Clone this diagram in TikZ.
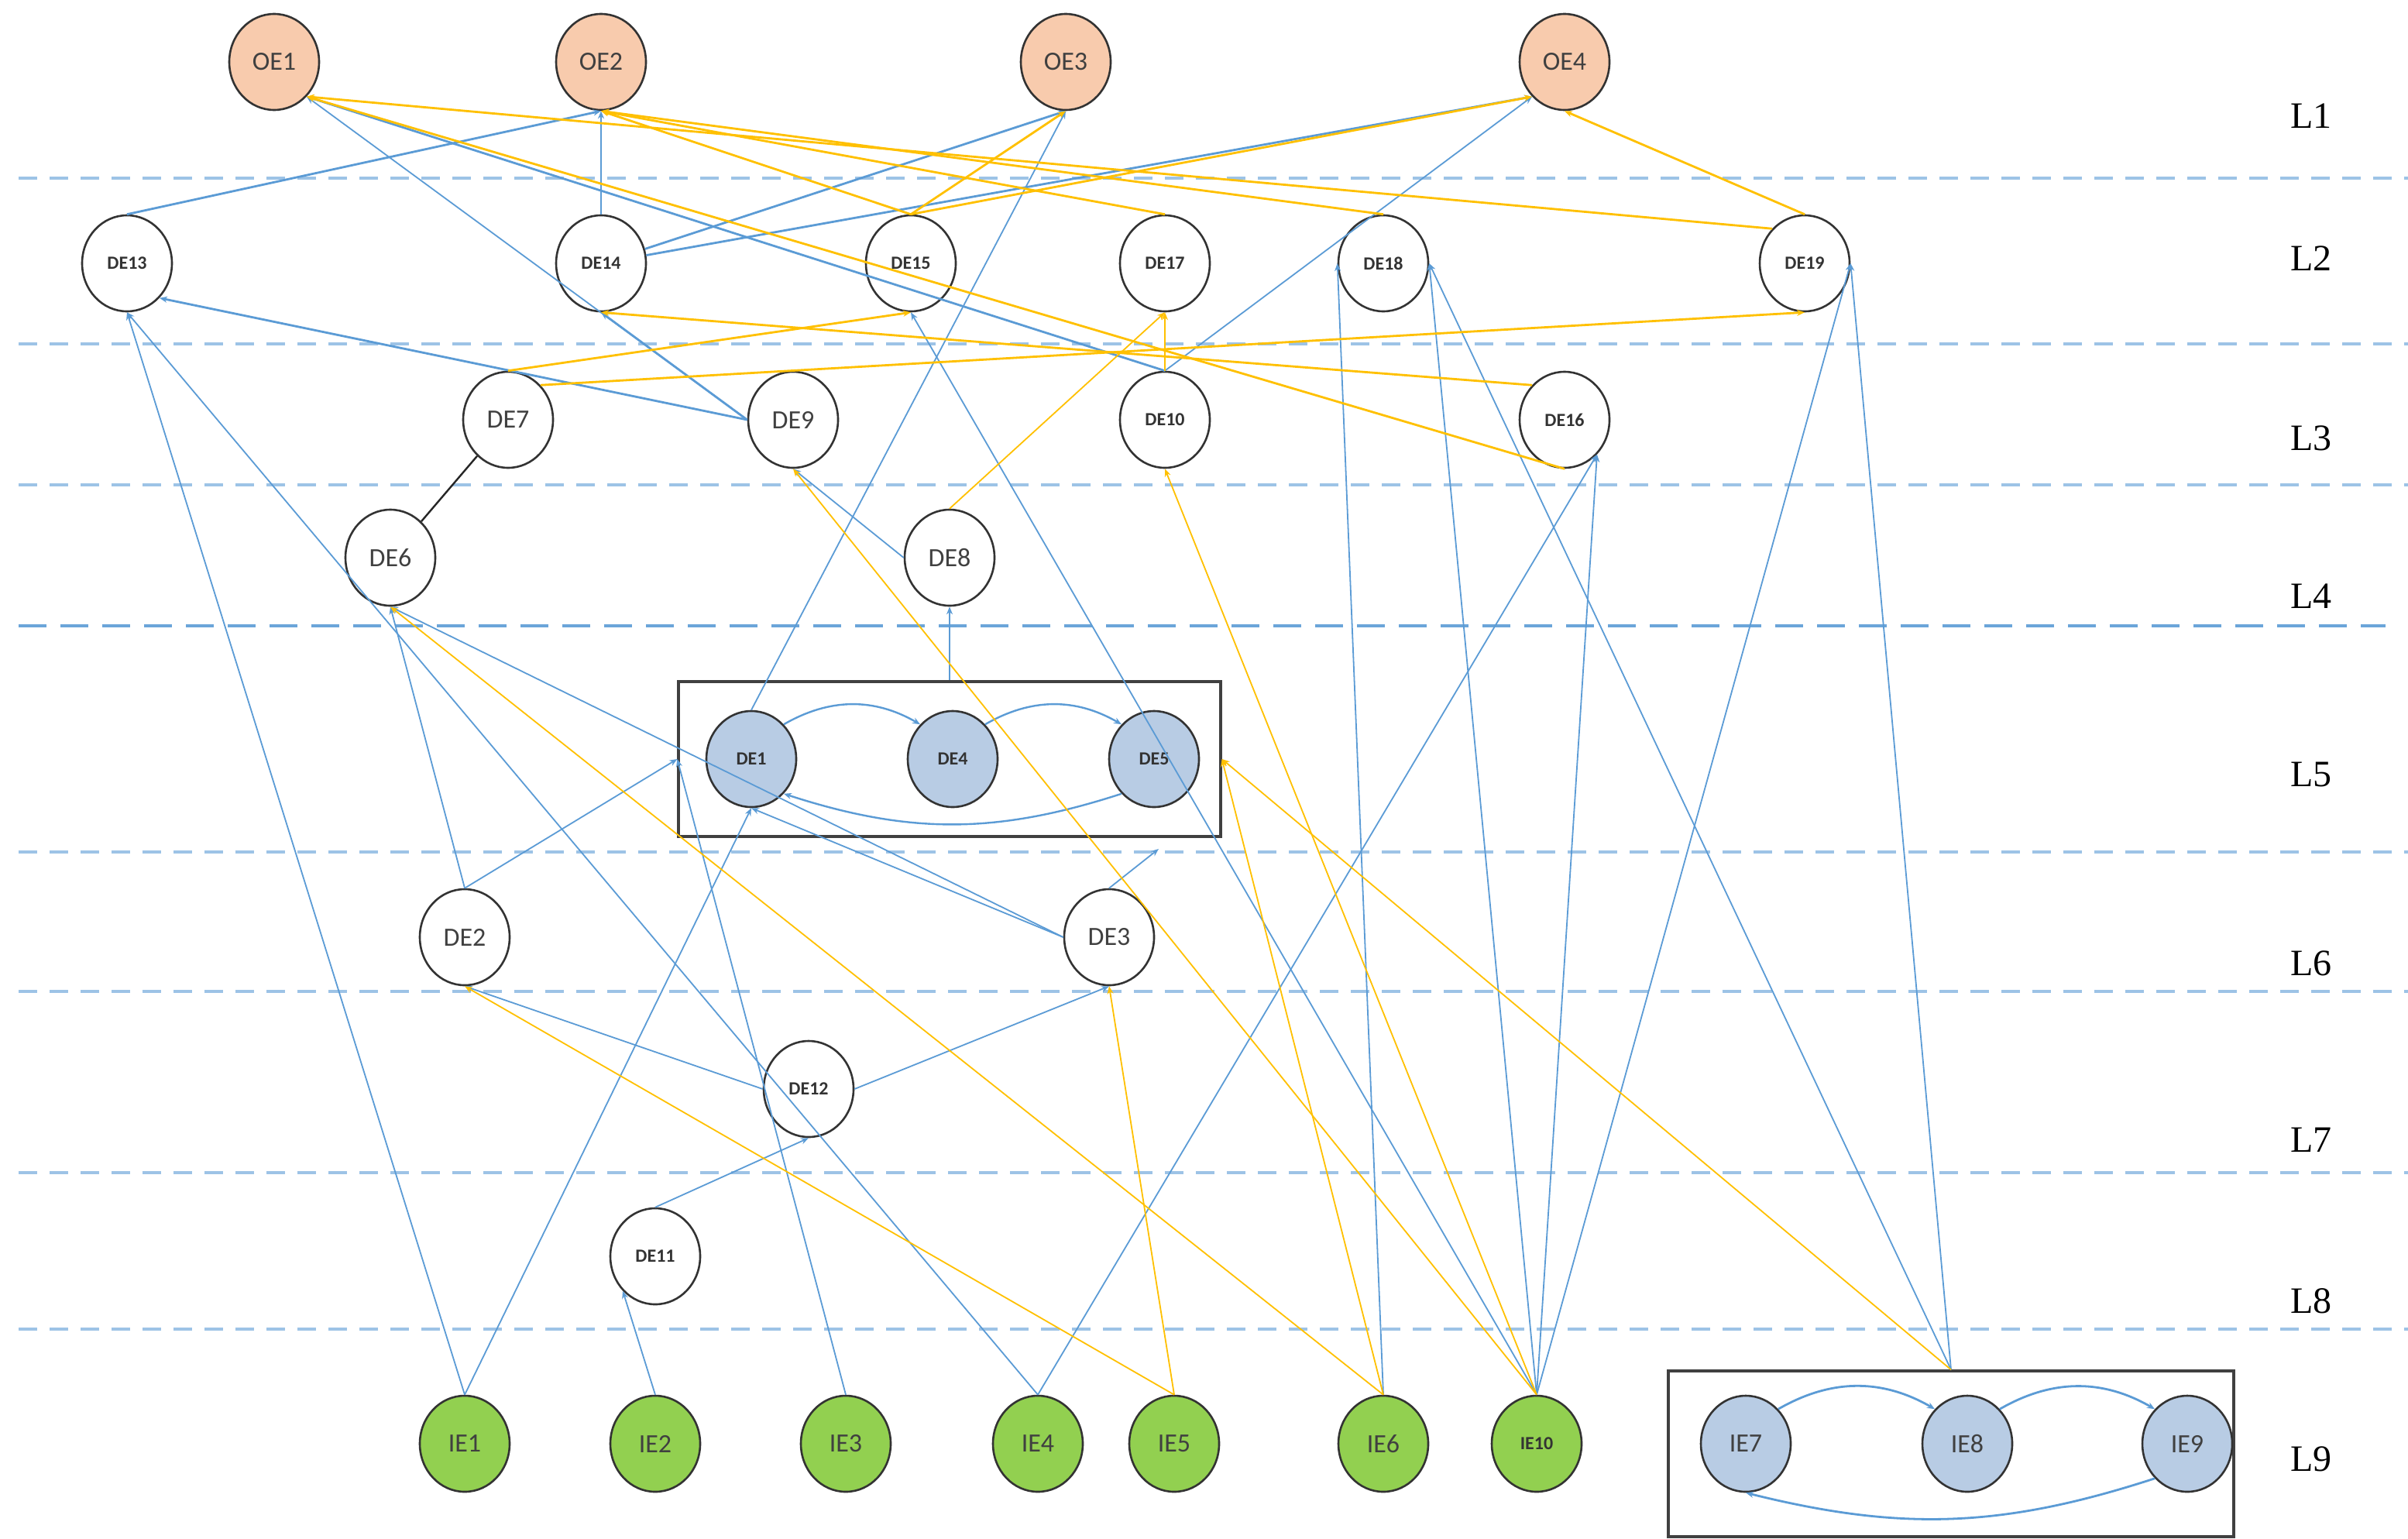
\documentclass[tikz,border=0pt]{standalone}
\usepackage{fontspec}
\setmainfont{Liberation Serif}
\newfontfamily\carfont{Carlito}
\usetikzlibrary{shapes.geometric,arrows.meta}
\definecolor{eb}{RGB}{91,155,213}
\definecolor{ey}{RGB}{255,192,0}
\definecolor{dl}{RGB}{157,195,230}
\definecolor{oef}{RGB}{248,203,173}
\definecolor{def}{RGB}{184,204,228}
\definecolor{ief}{RGB}{146,208,80}
\begin{document}
\begin{tikzpicture}[x=1pt,y=-1pt,
  nd/.style={ellipse,draw=black!80,line width=1.3pt,minimum width=58pt,minimum height=62pt,inner sep=0pt,font=\carfont\fontsize{17}{20}\selectfont,text=black!75},
  sm/.style={font=\carfont\bfseries\fontsize{12}{14}\selectfont,text=black!80},
  oe/.style={nd,fill=oef},
  df/.style={nd,fill=def},
  ie/.style={nd,fill=ief},
  bx/.style={draw=black!75,line width=1.6pt,minimum width=#1,inner sep=0pt},
  B/.style={draw=eb,line width=0.9pt,-{Stealth[length=5pt,width=4pt]}},
  BT/.style={B,line width=1.4pt},
  Y/.style={draw=ey,line width=0.9pt,-{Stealth[length=5pt,width=4pt]}},
  YT/.style={Y,line width=1.4pt},
  dl/.style={draw=dl,line width=1.6pt,dash pattern=on 12pt off 8pt},
  lab/.style={font=\fontsize{24}{28}\selectfont}]
\useasboundingbox (0,0) rectangle (1554.5,993);
% dashed layer lines
\foreach \y in {115,222,313,550,640,757,858} \draw[dl] (12,\y) -- (1555,\y);
\draw[dl,draw=eb!90,dash pattern=on 18pt off 9pt] (12,404) -- (1540,404);
\foreach \t/\y in {L1/75,L2/167,L3/283,L4/385,L5/500,L6/622,L7/736,L8/840,L9/942}
  \node[lab] (lab\t) at (1492,\y) {\t};
% boxes
\node[bx=350pt,minimum height=100pt] (box1) at (613,490) {};
\node[bx=365pt,minimum height=107pt] (box2) at (1259.5,938.5) {};
% nodes
\node[oe] (OE1) at (177,40) {OE1};
\node[oe] (OE2) at (388,40) {OE2};
\node[oe] (OE3) at (688,40) {OE3};
\node[oe] (OE4) at (1010,40) {OE4};
\node[nd,sm] (DE13) at (82,170) {DE13};
\node[nd,sm] (DE14) at (388,170) {DE14};
\node[nd,sm] (DE15) at (588,170) {DE15};
\node[nd,sm] (DE17) at (752,170) {DE17};
\node[nd,sm] (DE18) at (893,170) {DE18};
\node[nd,sm] (DE19) at (1165,170) {DE19};
\node[nd] (DE7) at (328,271) {DE7};
\node[nd] (DE9) at (512,271) {DE9};
\node[nd,sm] (DE10) at (752,271) {DE10};
\node[nd,sm] (DE16) at (1010,271) {DE16};
\node[nd] (DE6) at (252,360) {DE6};
\node[nd] (DE8) at (613,360) {DE8};
\node[df,sm] (DE1) at (485,490) {DE1};
\node[df,sm] (DE4) at (615,490) {DE4};
\node[df,sm] (DE5) at (745,490) {DE5};
\node[nd] (DE2) at (300,605) {DE2};
\node[nd] (DE3) at (716,605) {DE3};
\node[nd,sm] (DE12) at (522,703) {DE12};
\node[nd,sm] (DE11) at (423,811) {DE11};
\node[ie] (IE1) at (300,932) {IE1};
\node[ie] (IE2) at (423,932) {IE2};
\node[ie] (IE3) at (546,932) {IE3};
\node[ie] (IE4) at (670,932) {IE4};
\node[ie] (IE5) at (758,932) {IE5};
\node[ie] (IE6) at (893,932) {IE6};
\node[ie,sm] (IE10) at (992,932) {IE10};
\node[df] (IE7) at (1127,932) {IE7};
\node[df] (IE8) at (1270,932) {IE8};
\node[df] (IE9) at (1412,932) {IE9};
\coordinate (c3) at (748,548);
% intra-box arrows
\draw[B,line width=1.2pt] (DE1.north east) to[bend left=30] (DE4.north west);
\draw[B,line width=1.2pt] (DE4.north east) to[bend left=30] (DE5.north west);
\draw[B,line width=1.2pt] (DE5.south west) to[bend left=18] (DE1.south east);
\draw[B,line width=1.4pt] (IE7.north east) to[bend left=30] (IE8.north west);
\draw[B,line width=1.4pt] (IE8.north east) to[bend left=30] (IE9.north west);
\draw[B,line width=1.4pt] (IE9.south west) to[bend left=16] (IE7.south);
% black
\draw[black!85,line width=1.2pt] (DE7) -- (DE6);
% blue edges
\draw[BT] (DE13.north) -- (OE2.south);
\draw[B] (DE14.north) -- (OE2.south);
\draw[BT] (DE14) -- (OE3.south);
\draw[BT] (DE14) -- (OE4.south west);
\draw[BT] (DE10.north) -- (OE1.south east);
\draw[B] (DE10.north) -- (OE4.south west);
\draw[B] (DE9.west) -- (OE1.south east);
\draw[BT] (DE9.west) -- (DE13.south east);
\draw[BT] (DE9.west) -- (DE14.south);
\draw[B] (DE8.west) -- (DE9.south);
\draw[BT] (box1.north) -- (DE8.south);
\draw[B] (DE1.north) -- (OE3.south);
\draw[B] (IE1.north) -- (DE13.south);
\draw[B] (IE1.north) -- (DE1.south);
\draw[B] (IE4.north) -- (DE13.south);
\draw[B] (IE4.north) -- (DE16.south east);
\draw[B] (IE3.north) -- (box1.west);
\draw[B] (DE2.north) -- (box1.west);
\draw[B] (DE2.north) -- (DE6.south);
\draw[B] (DE3.west) -- (DE6.south);
\draw[B] (DE3.west) -- (DE1.south);
\draw[B] (DE3.north) -- (c3);
\draw[B] (DE12.west) -- (DE2.south);
\draw[B] (DE12.east) -- (DE3.south);
\draw[B] (DE11.north) -- (DE12.south);
\draw[B] (IE2.north) -- (DE11.south west);
\draw[B] (IE10.north) -- (DE15.south);
\draw[B] (IE6.north) -- (DE18.west);
\draw[B] (IE10.north) -- (DE18.east);
\draw[B] (IE10.north) -- (DE19.east);
\draw[B] (IE10.north) -- (DE16.south east);
\draw[B] (box2.north) -- (DE18.east);
\draw[B] (box2.north) -- (DE19.east);
% yellow edges
\draw[Y] (IE5.north) -- (DE2.south);
\draw[Y] (IE5.north) -- (DE3.south);
\draw[Y] (IE6.north) -- (DE6.south);
\draw[Y] (IE6.north) -- (box1.east);
\draw[Y] (box2.north) -- (box1.east);
\draw[Y] (IE10.north) -- (DE9.south);
\draw[Y] (IE10.north) -- (DE10.south);
\draw[Y] (DE8.north) -- (DE17.south);
\draw[Y] (DE10.north) -- (DE17.south);
\draw[YT] (DE7.north) -- (DE15.south);
\draw[YT] (DE7.north east) -- (DE19.south);
\draw[YT] (DE16.north west) -- (DE14.south);
\draw[YT] (DE16.south) -- (OE1.south east);
\draw[YT] (DE15.north) -- (OE2.south);
\draw[YT] (DE17.north) -- (OE2.south);
\draw[YT] (DE18.north) -- (OE2.south);
\draw[YT] (DE19.north west) -- (OE1.south east);
\draw[YT] (DE15.north) -- (OE3.south);
\draw[YT] (DE15.north) -- (OE4.south west);
\draw[YT] (DE19.north) -- (OE4.south);
\end{tikzpicture}
\end{document}
